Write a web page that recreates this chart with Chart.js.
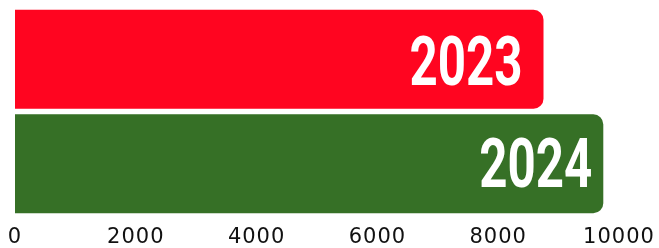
<!DOCTYPE html>
<html>
<head>
<meta charset="utf-8">
<style>
  html, body { margin: 0; padding: 0; background: #ffffff; }
  #wrap { width: 659px; height: 248px; }
</style>
<script src="https://cdn.jsdelivr.net/npm/chart.js@4/dist/chart.umd.min.js"></script>
</head>
<body>
<div id="wrap"><canvas id="c" width="659" height="248"></canvas></div>
<script>
const categories = ["2023", "2024"];
const values = [8750, 9740];
const barColors = ["#FF0520", "#367026"];
const tickValues = [0, 2000, 4000, 6000, 8000, 10000];

const barLabelPlugin = {
  id: 'barLabels',
  afterDatasetsDraw(chart, args, opts) {
    const ctx = chart.ctx;
    const meta = chart.getDatasetMeta(0);
    meta.data.forEach((bar, i) => {
      ctx.save();
      ctx.letterSpacing = '0px';
      ctx.fillStyle = '#ffffff';
      ctx.font = 'bold 69px Roboto, "DejaVu Sans", sans-serif';
      ctx.textAlign = 'right';
      ctx.textBaseline = 'alphabetic';
      const w = ctx.measureText(categories[i]).width;
      const sx = opts.textWidth / w;
      ctx.translate(bar.x - opts.pad[i], bar.y + opts.dy[i]);
      ctx.scale(sx, 1);
      ctx.fillText(categories[i], 0, 0);
      ctx.restore();
    });
  }
};

const tickSpacingPlugin = {
  id: 'tickSpacing',
  beforeDraw(chart) { chart.ctx.letterSpacing = '1px'; },
  afterDraw(chart) { chart.ctx.letterSpacing = '0px'; }
};

new Chart(document.getElementById('c'), {
  type: 'bar',
  data: {
    labels: categories,
    datasets: [{
      data: values,
      backgroundColor: barColors,
      borderRadius: 10,
      borderSkipped: 'start',
      categoryPercentage: 1,
      barPercentage: 0.947
    }]
  },
  options: {
    indexAxis: 'y',
    responsive: false,
    animation: false,
    layout: { padding: { left: 0, top: 7, right: 0, bottom: 0 } },
    plugins: {
      legend: { display: false },
      tooltip: { enabled: false },
      barLabels: { pad: [21, 11], dy: [25.5, 23], textWidth: 113 }
    },
    scales: {
      x: {
        min: 0,
        max: 10000,
        afterBuildTicks(axis) { axis.ticks = tickValues.map(v => ({ value: v })); },
        afterFit(scale) {
          scale.height = 32;
          scale.paddingLeft = 15;
          scale.paddingRight = 40;
        },
        grid: { display: false, drawTicks: false },
        border: { display: false },
        ticks: {
          color: '#111111',
          padding: 9,
          font: { family: '"DejaVu Sans", sans-serif', size: 21 },
          maxRotation: 0,
          autoSkip: false,
          callback: (v) => String(v)
        }
      },
      y: {
        display: false
      }
    }
  },
  plugins: [barLabelPlugin, tickSpacingPlugin]
});
</script>
</body>
</html>
